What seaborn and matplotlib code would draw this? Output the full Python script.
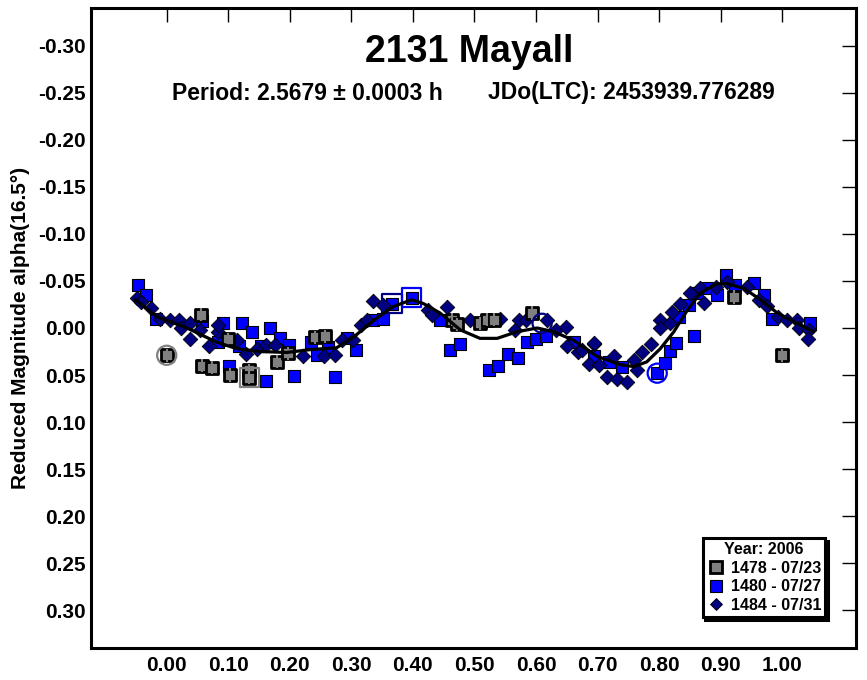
import numpy as np
import pandas as pd
import matplotlib
matplotlib.use("Agg")
import matplotlib.pyplot as plt
import seaborn as sns
from matplotlib.lines import Line2D

# ---------------- data ----------------
title = "2131 Mayall"
subtitle_left = "Period: 2.5679 \u00b1 0.0003 h"
subtitle_right = "JDo(LTC): 2453939.776289"
ylabel = "Reduced Magnitude alpha(16.5\u00b0)"
legend_title = "Year: 2006"
series_labels = ["1478 - 07/23", "1480 - 07/27", "1484 - 07/31"]

x_ticks = [0.0, 0.1, 0.2, 0.3, 0.4, 0.5, 0.6, 0.7, 0.8, 0.9, 1.0]
y_ticks = [-0.30, -0.25, -0.20, -0.15, -0.10, -0.05, 0.0, 0.05, 0.10, 0.15, 0.20, 0.25, 0.30]

# session 1478 (gray squares)
s1478_x = [0.000, 0.055, 0.057, 0.073, 0.100, 0.103, 0.134, 0.134, 0.180, 0.197,
           0.241, 0.258, 0.463, 0.471, 0.509, 0.520, 0.532, 0.593, 0.921, 1.000]
s1478_y = [0.029, -0.014, 0.040, 0.042, 0.012, 0.050, 0.045, 0.053, 0.036, 0.027,
           0.010, 0.009, -0.009, -0.004, -0.005, -0.009, -0.009, -0.016, -0.033, 0.029]
s1478_err = [0.007] * 20

# session 1480 (blue squares)
s1480_x = [-0.047, -0.033, -0.018, 0.057, 0.084, 0.092, 0.102, 0.118, 0.123, 0.138,
           0.154, 0.162, 0.168, 0.184, 0.199, 0.207, 0.235, 0.245, 0.262, 0.274,
           0.293, 0.307, 0.336, 0.352, 0.366, 0.398, 0.444, 0.461, 0.476, 0.523,
           0.539, 0.554, 0.570, 0.585, 0.600, 0.616, 0.661, 0.694, 0.718, 0.740,
           0.797, 0.810, 0.817, 0.828, 0.832, 0.848, 0.856, 0.862, 0.878, 0.894,
           0.908, 0.924, 0.954, 0.970, 0.984, 1.046]
s1480_y = [-0.046, -0.035, -0.010, -0.007, 0.015, -0.005, 0.040, 0.019, -0.005, 0.004,
           0.019, 0.056, 0.000, 0.011, 0.018, 0.051, 0.015, 0.029, 0.020, 0.052,
           0.011, 0.023, -0.008, -0.010, -0.026, -0.032, -0.009, 0.023, 0.017, 0.045,
           0.040, 0.028, 0.032, 0.015, 0.012, 0.009, 0.015, 0.030, 0.036, 0.041,
           0.048, 0.037, 0.024, 0.016, -0.012, -0.024, 0.008, -0.037, -0.042, -0.035,
           -0.056, -0.046, -0.048, -0.035, -0.010, -0.005]

# session 1484 (navy diamonds)
s1484_x = [-0.049, -0.041, -0.025, -0.011, 0.005, 0.020, 0.023, 0.038, 0.038, 0.054,
           0.069, 0.084, 0.084, 0.114, 0.129, 0.146, 0.161, 0.176, 0.222, 0.255,
           0.274, 0.285, 0.303, 0.315, 0.325, 0.336, 0.352, 0.425, 0.431, 0.456,
           0.493, 0.541, 0.566, 0.572, 0.584, 0.618, 0.633, 0.649, 0.650, 0.669,
           0.675, 0.686, 0.694, 0.695, 0.702, 0.715, 0.726, 0.732, 0.748, 0.759,
           0.764, 0.772, 0.787, 0.802, 0.802, 0.818, 0.821, 0.834, 0.851, 0.867,
           0.873, 0.892, 0.910, 0.943, 0.962, 0.976, 0.994, 1.008, 1.024, 1.027,
           1.043, 1.042]
s1484_y = [-0.032, -0.028, -0.021, -0.010, -0.008, -0.009, 0.000, -0.005, 0.012, 0.002,
           0.019, 0.004, -0.003, 0.013, 0.028, 0.022, 0.018, 0.018, 0.030, 0.030,
           0.029, 0.013, 0.013, -0.003, -0.008, -0.029, -0.024, -0.019, -0.014, -0.022,
           -0.009, -0.010, 0.002, -0.008, -0.009, -0.009, 0.002, -0.001, 0.019, 0.026,
           0.023, 0.038, 0.017, 0.016, 0.039, 0.052, 0.030, 0.054, 0.057, 0.034,
           0.045, 0.025, 0.017, -0.008, 0.000, -0.005, -0.017, -0.026, -0.037, -0.042,
           -0.027, -0.044, -0.049, -0.044, -0.030, -0.023, -0.012, -0.008, -0.008, 0.000,
           0.002, 0.012]

# fitted lightcurve
fit_x = [-0.051, -0.016, 0.033, 0.081, 0.114, 0.152, 0.195, 0.233, 0.276, 0.305,
         0.336, 0.369, 0.398, 0.417, 0.444, 0.477, 0.509, 0.537, 0.569, 0.602,
         0.629, 0.661, 0.699, 0.737, 0.759, 0.780, 0.802, 0.824, 0.846, 0.867,
         0.894, 0.911, 0.938, 0.965, 0.992, 1.024, 1.051]
fit_y = [-0.030, -0.012, 0.000, 0.015, 0.022, 0.025, 0.026, 0.023, 0.021, 0.009,
         -0.008, -0.023, -0.030, -0.026, -0.016, 0.002, 0.011, 0.011, 0.004, 0.000,
         0.004, 0.013, 0.030, 0.039, 0.041, 0.036, 0.022, 0.004, -0.019, -0.037,
         -0.047, -0.047, -0.042, -0.030, -0.016, -0.005, 0.004]

# highlighted (ringed) points
ring_circle_x = [0.000, 0.610, 0.797]
ring_circle_y = [0.029, -0.005, 0.048]
ring_circle_c = ["#808080", "#000080", "#0000FF"]
ring_square_x = [0.134, 0.366, 0.398]
ring_square_y = [0.053, -0.026, -0.032]
ring_square_c = ["#808080", "#000080", "#0000FF"]

# ---------------- style ----------------
sns.set_style("white")
plt.rcParams['font.family'] = ['Liberation Sans', 'DejaVu Sans']
plt.rcParams['font.weight'] = 'bold'
plt.rcParams['axes.unicode_minus'] = False
for k in ['text.color', 'axes.labelcolor', 'xtick.color', 'ytick.color',
          'axes.edgecolor', 'xtick.labelcolor', 'ytick.labelcolor']:
    plt.rcParams[k] = 'black'

W, H = 867, 680
fig = plt.figure(figsize=(W / 100, H / 100), dpi=100)
L, R, T, B = 91, 856, 8, 648
ax = fig.add_axes([L / W, 1 - B / H, (R - L) / W, (B - T) / H])

GRAY, BLUE, NAVY = "#808080", "#0000FF", "#000080"

# points
sns.scatterplot(x=s1480_x, y=s1480_y, marker='s', s=64, color=BLUE,
                edgecolor='black', linewidth=0.8, ax=ax, zorder=3, legend=False)
sns.scatterplot(x=s1484_x, y=s1484_y, marker='D', s=55, color=NAVY,
                edgecolor='black', linewidth=0.6, ax=ax, zorder=4, legend=False)
sns.scatterplot(x=s1478_x, y=s1478_y, marker='s', s=64, color=GRAY,
                edgecolor='black', linewidth=2.0, ax=ax, zorder=5, legend=False)
ax.errorbar(s1478_x, s1478_y, yerr=s1478_err, fmt='none', ecolor=GRAY,
            elinewidth=1.5, capsize=0, zorder=6)

# rings
ax.scatter(ring_circle_x, ring_circle_y, marker='o', s=190, facecolors='none',
           edgecolors=ring_circle_c, linewidths=1.6, zorder=7)
ax.scatter(ring_square_x, ring_square_y, marker='s', s=190, facecolors='none',
           edgecolors=ring_square_c, linewidths=1.6, zorder=7)

# fit curve
sns.lineplot(x=fit_x, y=fit_y, color='black', linewidth=2.3, sort=False,
             estimator=None, ax=ax, zorder=8, legend=False)

# axes
ax.set_xlim(-0.123, 1.120)
ax.set_ylim(0.34, -0.34)
ax.set_xticks(x_ticks)
ax.set_xticklabels([f"{v:.2f}" for v in x_ticks])
ax.set_yticks(y_ticks)
ax.set_yticklabels([f"{v:.2f}" for v in y_ticks])
ax.tick_params(axis='both', which='both', direction='in', length=10, width=1,
               top=True, right=True, labelsize=15, color='black', labelcolor='black')
ax.tick_params(axis='x', pad=6)
ax.tick_params(axis='y', pad=4)
for lab in ax.get_xticklabels() + ax.get_yticklabels():
    lab.set_fontweight('bold')
for sp in ax.spines.values():
    sp.set_visible(True)
    sp.set_color('black')
    sp.set_linewidth(2.2)
ax.grid(False)
ax.set_xlabel("")
ax.set_ylabel(ylabel, fontsize=15, fontweight='bold', color='black')
ax.yaxis.set_label_coords(-0.08, 0.5)

# titles
fig.text(469 / W, 1 - 52 / H, title, ha='center', va='center',
         fontsize=27, fontweight='bold', color='black')
fig.text(172 / W, 1 - 93 / H, subtitle_left, ha='left', va='center',
         fontsize=16.5, fontweight='bold', color='black')
fig.text(488 / W, 1 - 93 / H, subtitle_right, ha='left', va='center',
         fontsize=16.5, fontweight='bold', color='black')

# legend
handles = [
    Line2D([], [], marker='s', linestyle='none', markersize=8, markerfacecolor=GRAY,
           markeredgecolor='black', markeredgewidth=2.0),
    Line2D([], [], marker='s', linestyle='none', markersize=8, markerfacecolor=BLUE,
           markeredgecolor='black', markeredgewidth=0.8),
    Line2D([], [], marker='D', linestyle='none', markersize=6.5, markerfacecolor=NAVY,
           markeredgecolor='black', markeredgewidth=0.6),
]
leg = ax.legend(handles, series_labels, title=legend_title, loc='lower right',
                bbox_to_anchor=((825 - L) / (R - L), (B - 617) / (B - T)),
                frameon=True, fancybox=False, framealpha=1, edgecolor='black',
                shadow={'color': 'black', 'alpha': 1},
                prop={'weight': 'bold', 'size': 11.5},
                title_fontproperties={'weight': 'bold', 'size': 11.5},
                handletextpad=0.3, handlelength=1.2, borderpad=0.25,
                labelspacing=0.22, borderaxespad=0)
leg.get_frame().set_linewidth(2.2)
for t in leg.get_texts():
    t.set_color('black')
leg.get_title().set_color('black')
leg.set_zorder(20)

fig.savefig("out.png", dpi=100)
